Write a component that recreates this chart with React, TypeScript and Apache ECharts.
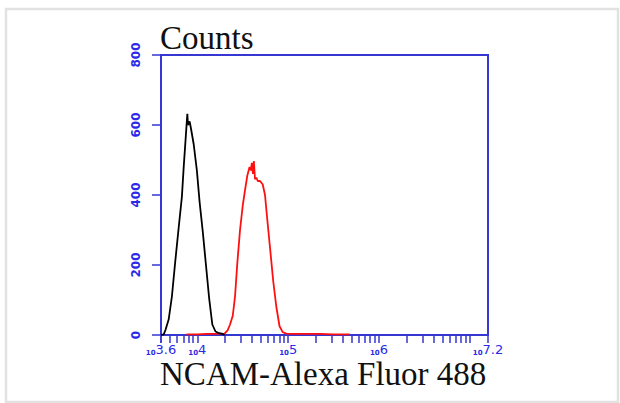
import React, { useEffect, useRef } from "react";
import * as echarts from "echarts";

// x values are log10 of fluorescence intensity
const blackLog = [3.6, 3.63, 3.65, 3.685, 3.72, 3.755, 3.792, 3.83, 3.85, 3.875, 3.89, 3.897, 3.915, 3.93, 3.96, 3.995, 4.025, 4.06, 4.095, 4.13, 4.165, 4.2, 4.24, 4.27, 4.3];
const blackCounts = [0, 2, 15, 45, 110, 205, 300, 395, 480, 575, 632, 600, 610, 590, 545, 470, 380, 295, 200, 105, 30, 10, 5, 4, 0];

const redLog = [3.88, 4.0, 4.1, 4.2, 4.3, 4.335, 4.36, 4.39, 4.415, 4.44, 4.47, 4.5, 4.525, 4.55, 4.575, 4.59, 4.6, 4.612, 4.622, 4.635, 4.65, 4.665, 4.69, 4.72, 4.745, 4.77, 4.8, 4.835, 4.87, 4.905, 4.94, 4.98, 5.05, 5.2, 5.35, 5.5, 5.68];
const redCounts = [2, 2, 3, 3, 4, 14, 30, 55, 110, 205, 300, 370, 414, 455, 480, 470, 492, 460, 497, 445, 450, 440, 440, 430, 400, 330, 250, 155, 80, 25, 8, 4, 3, 3, 3, 2, 2];

const xLabelExps = [3.6, 4, 5, 6, 7.2];
const xTickMultipliers = [1, 2, 3, 4, 5, 6, 7, 8, 9];
const xTickDecades = [3, 4, 5, 6];
const yTicks = [0, 200, 400, 600, 800];

const xTitle = "NCAM-Alexa Fluor 488";
const yTitle = "Counts";

const BLUE = "#3636d2";
const LABEL_BLUE = "#2a2ae6";

export default function App() {
  const ref = useRef<HTMLDivElement>(null);
  useEffect(() => {
    if (!ref.current) return;
    const chart = echarts.init(ref.current, undefined, { renderer: "svg" });
    const xMin = 3.6;
    const xMax = 7.2;
    const tickVals: number[] = [xMin];
    xTickDecades.forEach((d) => {
      xTickMultipliers.forEach((m) => {
        const v = Math.log10(m * Math.pow(10, d));
        if (v > xMin + 0.001 && v <= xMax) tickVals.push(v);
      });
    });
    tickVals.push(7);
    tickVals.push(xMax);
    const pair = (xs: number[], ys: number[]) => xs.map((x, i) => [x, ys[i]]);
    chart.setOption({
      animation: false,
      backgroundColor: "#ffffff",
      grid: {
        left: 161,
        right: 132,
        top: 55,
        bottom: 68,
        show: true,
        borderColor: BLUE,
        borderWidth: 2,
        backgroundColor: "transparent",
      },
      xAxis: {
        type: "value",
        min: xMin,
        max: xMax,
        splitLine: { show: false },
        axisLine: { show: true, lineStyle: { color: BLUE, width: 2 } },
        axisTick: {
          show: true,
          inside: false,
          length: 8,
          customValues: tickVals,
          lineStyle: { color: BLUE, width: 1.5 },
        },
        axisLabel: {
          show: true,
          customValues: xLabelExps,
          margin: 7,
          formatter: (v: number) => `{b|10}{a|${Number(v.toFixed(1)) % 1 === 0 ? v.toFixed(0) : v.toFixed(1)}}`,
          rich: {
            a: { fontSize: 13, fontFamily: "DejaVu Sans", color: LABEL_BLUE, verticalAlign: "bottom", lineHeight: 14 },
            b: { fontSize: 7, fontFamily: "DejaVu Sans", fontWeight: "bold", color: LABEL_BLUE, verticalAlign: "bottom", lineHeight: 14 },
          },
        },
      },
      yAxis: {
        type: "value",
        min: 0,
        max: 800,
        interval: 200,
        splitLine: { show: false },
        axisLine: { show: true, lineStyle: { color: BLUE, width: 2 } },
        axisTick: { show: true, inside: false, length: 9, lineStyle: { color: BLUE, width: 1.5 } },
        axisLabel: {
          show: true,
          rotate: 90,
          margin: 19,
          color: LABEL_BLUE,
          fontSize: 12,
          fontWeight: "bold",
          fontFamily: "DejaVu Sans",
          formatter: (v: number) => (yTicks.includes(v) ? String(v) : ""),
        },
      },
      series: [
        {
          type: "line",
          data: pair(blackLog, blackCounts),
          showSymbol: false,
          lineStyle: { color: "#000000", width: 1.8 },
          z: 3,
        },
        {
          type: "line",
          data: pair(redLog, redCounts),
          showSymbol: false,
          lineStyle: { color: "#ff1010", width: 1.8 },
          z: 2,
        },
      ],
      graphic: [
        {
          type: "rect",
          shape: { x: 6, y: 9, width: 612, height: 393 },
          style: { fill: "none", stroke: "#e2e2e2", lineWidth: 2.5 },
          silent: true,
        },
        {
          type: "text",
          x: 160,
          y: 37.5,
          style: {
            text: yTitle,
            font: "33px 'Liberation Serif'",
            fill: "#111111",
            verticalAlign: "middle",
            align: "left",
          },
        },
        {
          type: "text",
          x: 160,
          y: 374,
          style: {
            text: xTitle,
            font: "33px 'Liberation Serif'",
            fill: "#111111",
            verticalAlign: "middle",
            align: "left",
          },
        },
      ],
    });
    return () => chart.dispose();
  }, []);
  return (
    <div
      ref={ref}
      style={{ position: "fixed", left: 0, top: 0, width: 620, height: 403 }}
    />
  );
}
